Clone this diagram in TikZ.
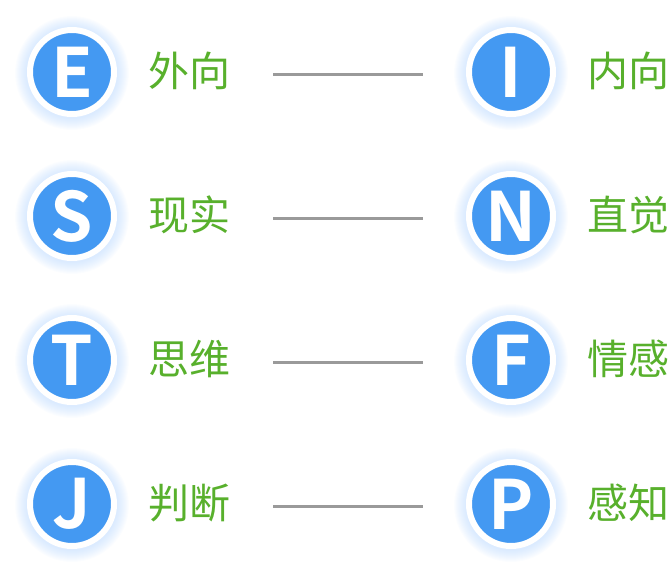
\documentclass[tikz,border=0pt]{standalone}
\usepackage{fontspec}
\usepackage{tikz}
\newfontfamily\cjk{Noto Sans CJK SC}
\newfontfamily\cjkbold{Noto Sans CJK SC Bold}
\definecolor{mbtiblue}{HTML}{4499F2}
\definecolor{mbtiglow}{HTML}{A9CFFF}
\definecolor{mbtigreen}{HTML}{58B02C}
\definecolor{mbtigrey}{HTML}{9A9A9A}
\tikzset{
  letter/.style={circle, fill=mbtiblue, draw=white, line width=6pt, minimum size=84pt,
    inner sep=0pt, text=white, font=\cjkbold\fontsize{68}{68}\selectfont},
  trait/.style={anchor=west, inner sep=0pt, text=mbtigreen, font=\cjk\fontsize{41}{41}\selectfont},
  pairline/.style={draw=mbtigrey, line width=3pt}
}
\begin{document}
\begin{tikzpicture}[x=1pt,y=1pt]
    \useasboundingbox (0,0) rectangle (669,-576);

    \foreach \i/\a/\ta/\b/\tb in {1/E/外向/I/内向, 2/S/现实/N/直觉, 3/T/思维/F/情感, 4/J/判断/P/感知} {
        % glow
        \foreach \r in {46,...,57} {
            \fill[mbtiglow, opacity=0.045] (72,-144*\i+71) circle (\r);
            \fill[mbtiglow, opacity=0.045] (511,-144*\i+71) circle (\r);
        }
        \node[letter] (l\i) at (72,-144*\i+72) {\a};
        \node[letter] (r\i) at (511,-144*\i+72) {\b};
        \node[trait] (lt\i) at (148,-144*\i+73) {\ta};
        \node[trait] (rt\i) at (587,-144*\i+73) {\tb};
        \draw[pairline, shorten <=156pt, shorten >=43pt]
            ([yshift=-2.5pt]l\i.east) -- ([yshift=-2.5pt]r\i.west);
    }
\end{tikzpicture}
\end{document}
